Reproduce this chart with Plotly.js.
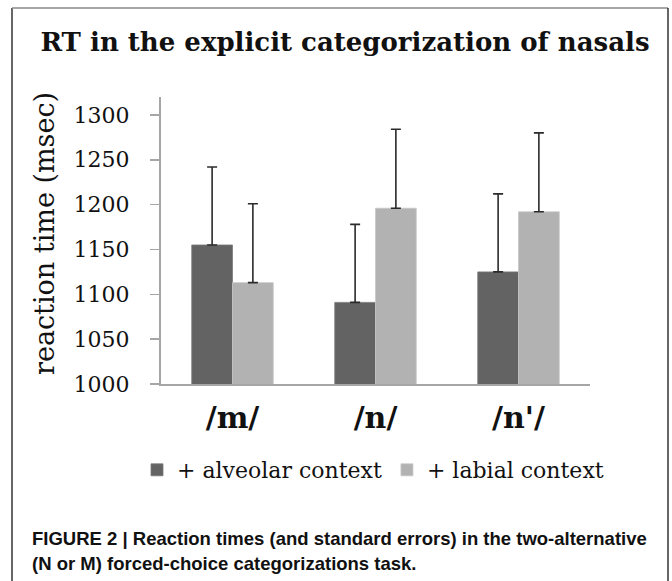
<!DOCTYPE html>
<html>
<head>
<meta charset="utf-8">
<script src="https://cdn.plot.ly/plotly-3.0.1.min.js"></script>
<style>
  html, body { margin: 0; padding: 0; background: #fff; }
  #chart { width: 672px; height: 581px; }
</style>
</head>
<body>
<div id="chart"></div>
<script>
// ---- data ----
const categories = ["/m/", "/n/", "/n'/"];
const seriesNames = ["+ alveolar context", "+ labial context"];
const alveolarRT = [1155, 1091, 1125];
const labialRT = [1113, 1196, 1192];
const alveolarSE = [87, 87, 87];
const labialSE = [88, 88, 88];
const yTickVals = [1000, 1050, 1100, 1150, 1200, 1250, 1300];

// ---- layout geometry (pixels) ----
const W = 672, H = 581;
const M = { l: 161, r: 82, t: 97, b: 197 };
const PW = W - M.l - M.r, PH = H - M.t - M.b;
const px2x = px => (px - M.l) / PW;
const py2y = py => (H - M.b - py) / PH;

const serif = "DejaVu Serif, Liberation Serif, serif";
const capFont = "Liberation Sans, Arial, sans-serif";

const traces = [
  {
    type: "bar", name: seriesNames[0], x: categories, y: alveolarRT,
    marker: { color: "#636363", line: { color: "#7a7a7a", width: 0.8 } },
    error_y: { type: "data", symmetric: false, array: alveolarSE,
               arrayminus: alveolarSE.map(() => 0), color: "#2b2b2b", thickness: 1.6, width: 5 },
    hoverinfo: "skip"
  },
  {
    type: "bar", name: seriesNames[1], x: categories, y: labialRT,
    marker: { color: "#b2b2b2", line: { color: "#c8c8c8", width: 0.8 } },
    error_y: { type: "data", symmetric: false, array: labialSE,
               arrayminus: labialSE.map(() => 0), color: "#2b2b2b", thickness: 1.6, width: 5 },
    hoverinfo: "skip"
  }
];

const layout = {
  width: W, height: H,
  margin: M,
  paper_bgcolor: "#fff", plot_bgcolor: "#fff",
  barmode: "group", bargap: 0.43, bargroupgap: 0,
  showlegend: true,
  title: {
    text: "<b>RT in the explicit categorization of nasals</b>",
    font: { family: serif, size: 26, color: "#111" },
    x: 345 / W, xanchor: "center", xref: "container",
    y: 1 - 42 / H, yanchor: "middle", yref: "container"
  },
  xaxis: {
    type: "category",
    showline: true, linecolor: "#a6a6a6", linewidth: 2,
    ticks: "", showgrid: false, zeroline: false,
    tickfont: { family: serif, size: 30, color: "#111", weight: "bold" },
    ticklabelstandoff: 6
  },
  yaxis: {
    range: [1000, 1320], tickvals: yTickVals, ticktext: yTickVals.map(String),
    showline: true, linecolor: "#a6a6a6", linewidth: 2,
    ticks: "outside", ticklen: 9, tickcolor: "#a6a6a6", tickwidth: 1.5,
    ticklabelstandoff: 16,
    showgrid: false, zeroline: false,
    tickfont: { family: serif, size: 22, color: "#111" }
  },
  legend: {
    orientation: "h", xref: "paper", yref: "paper",
    x: px2x(137), xanchor: "left", y: py2y(470), yanchor: "middle",
    font: { family: serif, size: 22, color: "#111" },
    itemwidth: 30, tracegroupgap: 0, bgcolor: "rgba(0,0,0,0)"
  },
  annotations: [
    {
      text: "reaction time (msec)", xref: "paper", yref: "paper",
      x: px2x(44), y: py2y(234), xanchor: "center", yanchor: "middle",
      textangle: -90, showarrow: false,
      font: { family: serif, size: 27, color: "#111" }
    },
    {
      text: "<b>FIGURE 2 | Reaction times (and standard errors) in the two-alternative</b>",
      xref: "paper", yref: "paper", x: px2x(30), y: py2y(538),
      xanchor: "left", yanchor: "middle", showarrow: false, align: "left",
      font: { family: capFont, size: 18.5, color: "#111" }
    },
    {
      text: "<b>(N or M) forced-choice categorizations task.</b>",
      xref: "paper", yref: "paper", x: px2x(30), y: py2y(563),
      xanchor: "left", yanchor: "middle", showarrow: false, align: "left",
      font: { family: capFont, size: 18.5, color: "#111" }
    }
  ],
  shapes: [
    { type: "line", xref: "paper", yref: "paper", x0: px2x(12), x1: px2x(12), y0: py2y(8), y1: py2y(600),
      line: { color: "#333", width: 1.5 } },
    { type: "line", xref: "paper", yref: "paper", x0: px2x(12), x1: px2x(668), y0: py2y(8), y1: py2y(8),
      line: { color: "#8a8a8a", width: 1.5 } },
    { type: "line", xref: "paper", yref: "paper", x0: px2x(668), x1: px2x(668), y0: py2y(8), y1: py2y(600),
      line: { color: "#333", width: 1.5 } }
  ]
};

Plotly.newPlot("chart", traces, layout, { displayModeBar: false, staticPlot: true });
</script>
</body>
</html>
